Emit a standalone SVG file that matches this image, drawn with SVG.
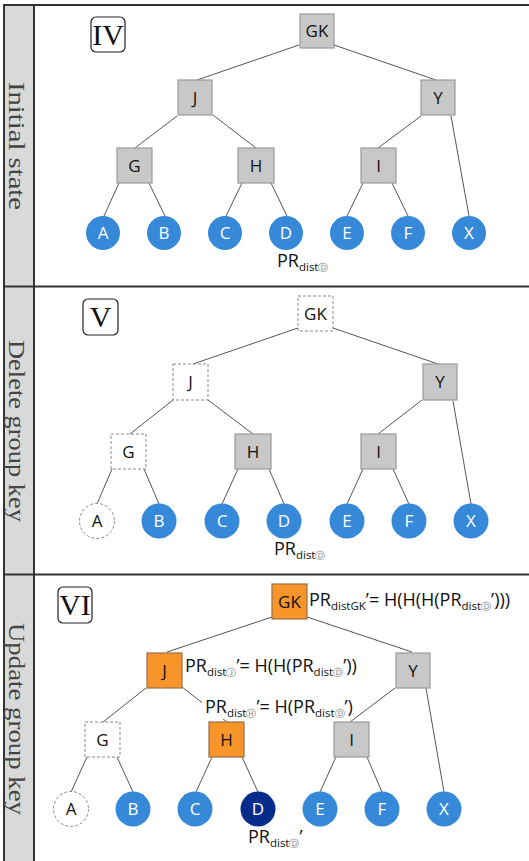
<svg xmlns="http://www.w3.org/2000/svg" width="529" height="861" viewBox="0 0 529 861">
<style>
.conn line{stroke:#555;stroke-width:1}
.box{fill:#c8c8c8;stroke:#9a9a9a;stroke-width:1.2}
.dash{fill:#fff;stroke:#888;stroke-width:1;stroke-dasharray:3 2}
.org{fill:#f7952a;stroke:#9a7048;stroke-width:1.2}
.leaf{fill:#3689d8}
.navy{fill:#062c8c}
.lbl{font-family:"Open Sans","Noto Sans",sans-serif;font-size:17px;text-anchor:middle;fill:#111}
.wl{fill:#fff}
.f{font-family:"Open Sans","Noto Sans",sans-serif;font-size:18px;fill:#111}
.sub{font-size:11.5px}
.circ{font-family:"DejaVu Sans",sans-serif;font-size:9.5px;fill:#777}
.lane{font-family:"Liberation Serif",serif;font-size:24px;fill:#444;text-anchor:middle}
.rom{font-family:"Liberation Serif",serif;font-size:30px;text-anchor:middle;fill:#111}
.rbox{fill:#fff;stroke:#222;stroke-width:1.2}
.frame{fill:none;stroke:#333;stroke-width:2}
</style>
<rect width="529" height="861" fill="#fff"/>
<g id="frame">
<rect x="4" y="5" width="30" height="860" fill="#d9d9d9"/>
<rect class="frame" x="4" y="5" width="530" height="860"/>
<line class="frame" x1="34" y1="5" x2="34" y2="861"/>
<line class="frame" x1="4" y1="286.5" x2="529" y2="286.5"/>
<line class="frame" x1="4" y1="574.5" x2="529" y2="574.5"/>
<text class="lane" transform="translate(8.5,146) rotate(90)" textLength="128" lengthAdjust="spacingAndGlyphs">Initial state</text>
<text class="lane" transform="translate(8.5,431) rotate(90)" textLength="182" lengthAdjust="spacingAndGlyphs">Delete group key</text>
<text class="lane" transform="translate(8.5,719) rotate(90)" textLength="192" lengthAdjust="spacingAndGlyphs">Update group key</text>
</g>
<g class="conn" id="connectors">
<line x1="299" y1="45" x2="197" y2="80"/>
<line x1="334" y1="45" x2="436" y2="80"/>
<line x1="177" y1="116" x2="135" y2="148"/>
<line x1="213" y1="115" x2="256" y2="148"/>
<line x1="421" y1="116" x2="378" y2="148"/>
<line x1="451" y1="116" x2="469" y2="216"/>
<line x1="119" y1="183" x2="104" y2="216"/>
<line x1="149" y1="183" x2="165" y2="216"/>
<line x1="242" y1="183" x2="226" y2="216"/>
<line x1="271" y1="183" x2="287" y2="216"/>
<line x1="363" y1="183" x2="347" y2="216"/>
<line x1="392" y1="183" x2="408" y2="216"/>

<line x1="298" y1="328" x2="193" y2="364"/>
<line x1="333" y1="328" x2="438" y2="364"/>
<line x1="173" y1="400" x2="130" y2="434"/>
<line x1="208" y1="400" x2="253" y2="434"/>
<line x1="422" y1="400" x2="378" y2="434"/>
<line x1="453" y1="401" x2="471" y2="504"/>
<line x1="112" y1="469" x2="97" y2="504"/>
<line x1="144" y1="469" x2="159" y2="504"/>
<line x1="238" y1="469" x2="222" y2="504"/>
<line x1="269" y1="469" x2="284" y2="504"/>
<line x1="363" y1="469" x2="347" y2="504"/>
<line x1="393" y1="469" x2="409" y2="504"/>

<line x1="272" y1="617" x2="167" y2="652"/>
<line x1="307" y1="617" x2="412" y2="652"/>
<line x1="146" y1="688" x2="103" y2="722"/>
<line x1="182" y1="687" x2="227" y2="722"/>
<line x1="395" y1="688" x2="350" y2="722"/>
<line x1="426" y1="688" x2="444" y2="792"/>
<line x1="87" y1="757" x2="71" y2="792"/>
<line x1="117" y1="757" x2="133" y2="792"/>
<line x1="212" y1="757" x2="196" y2="792"/>
<line x1="242" y1="757" x2="258" y2="792"/>
<line x1="336" y1="757" x2="320" y2="792"/>
<line x1="367" y1="757" x2="382" y2="792"/>
</g>

<!-- Panel IV -->
<g id="p1-tag"><rect class="rbox" x="91" y="17" width="34" height="35" rx="5"/><text class="rom" x="108" y="45">IV</text></g>
<g id="p1-GK"><rect class="box" x="300" y="14" width="34" height="34"/><text class="lbl" x="317" y="37">GK</text></g>
<g id="p1-J"><rect class="box" x="178" y="80" width="34" height="35"/><text class="lbl" x="195" y="103.5">J</text></g>
<g id="p1-Y"><rect class="box" x="421" y="80" width="34" height="35"/><text class="lbl" x="438" y="103.5">Y</text></g>
<g id="p1-G"><rect class="box" x="117" y="148" width="35" height="35"/><text class="lbl" x="134.5" y="171.5">G</text></g>
<g id="p1-H"><rect class="box" x="238" y="148" width="36" height="35"/><text class="lbl" x="256" y="171.5">H</text></g>
<g id="p1-I"><rect class="box" x="361" y="148" width="35" height="35"/><text class="lbl" x="378.5" y="171.5">I</text></g>
<g id="p1-A"><circle class="leaf" cx="103" cy="233" r="17"/><text class="lbl wl" x="103" y="239">A</text></g>
<g id="p1-B"><circle class="leaf" cx="164" cy="233" r="17"/><text class="lbl wl" x="164" y="239">B</text></g>
<g id="p1-C"><circle class="leaf" cx="225" cy="233" r="17"/><text class="lbl wl" x="225" y="239">C</text></g>
<g id="p1-D"><circle class="leaf" cx="286" cy="233" r="17"/><text class="lbl wl" x="286" y="239">D</text></g>
<g id="p1-E"><circle class="leaf" cx="347" cy="233" r="17"/><text class="lbl wl" x="347" y="239">E</text></g>
<g id="p1-F"><circle class="leaf" cx="408" cy="233" r="17"/><text class="lbl wl" x="408" y="239">F</text></g>
<g id="p1-X"><circle class="leaf" cx="469" cy="233" r="17"/><text class="lbl wl" x="469" y="239">X</text></g>
<text class="f" x="277" y="267">PR<tspan class="sub" dy="4">dist</tspan><tspan class="circ">Ⓓ</tspan></text>

<!-- Panel V -->
<g id="p2-tag"><rect class="rbox" x="83" y="299" width="35" height="36" rx="5"/><text class="rom" x="100.5" y="327">V</text></g>
<g id="p2-GK"><rect class="dash" x="298" y="296" width="35" height="35"/><text class="lbl" x="315.5" y="319.5">GK</text></g>
<g id="p2-J"><rect class="dash" x="173" y="364" width="35" height="36"/><text class="lbl" x="190.5" y="388">J</text></g>
<g id="p2-Y"><rect class="box" x="423" y="364" width="34" height="36"/><text class="lbl" x="440" y="388">Y</text></g>
<g id="p2-G"><rect class="dash" x="111" y="434" width="35" height="35"/><text class="lbl" x="128.5" y="457.5">G</text></g>
<g id="p2-H"><rect class="box" x="235" y="434" width="36" height="35"/><text class="lbl" x="253" y="457.5">H</text></g>
<g id="p2-I"><rect class="box" x="361" y="434" width="35" height="35"/><text class="lbl" x="378.5" y="457.5">I</text></g>
<g id="p2-A"><circle class="dash" cx="97" cy="521" r="17.5"/><text class="lbl" x="97" y="527">A</text></g>
<g id="p2-B"><circle class="leaf" cx="159" cy="521" r="17.5"/><text class="lbl wl" x="159" y="527">B</text></g>
<g id="p2-C"><circle class="leaf" cx="222" cy="521" r="17.5"/><text class="lbl wl" x="222" y="527">C</text></g>
<g id="p2-D"><circle class="leaf" cx="284" cy="521" r="17.5"/><text class="lbl wl" x="284" y="527">D</text></g>
<g id="p2-E"><circle class="leaf" cx="347" cy="521" r="17.5"/><text class="lbl wl" x="347" y="527">E</text></g>
<g id="p2-F"><circle class="leaf" cx="409" cy="521" r="17.5"/><text class="lbl wl" x="409" y="527">F</text></g>
<g id="p2-X"><circle class="leaf" cx="471" cy="521" r="17.5"/><text class="lbl wl" x="471" y="527">X</text></g>
<text class="f" x="274" y="555">PR<tspan class="sub" dy="4">dist</tspan><tspan class="circ">Ⓓ</tspan></text>

<!-- Panel VI -->
<g id="p3-tag"><rect class="rbox" x="58" y="587" width="34" height="36" rx="5"/><text class="rom" x="75" y="615">VI</text></g>
<g id="p3-GK"><rect class="org" x="272" y="584" width="35" height="35"/><text class="lbl" x="289.5" y="607.5">GK</text></g>
<g id="p3-J"><rect class="org" x="147" y="653" width="35" height="35"/><text class="lbl" x="164.5" y="676.5">J</text></g>
<g id="p3-Y"><rect class="box" x="396" y="653" width="34" height="35"/><text class="lbl" x="413" y="676.5">Y</text></g>
<g id="p3-G"><rect class="dash" x="85" y="722" width="35" height="35"/><text class="lbl" x="102.5" y="745.5">G</text></g>
<g id="p3-H"><rect class="org" x="209" y="722" width="35" height="35"/><text class="lbl" x="226.5" y="745.5">H</text></g>
<g id="p3-I"><rect class="box" x="334" y="722" width="35" height="35"/><text class="lbl" x="351.5" y="745.5">I</text></g>
<g id="p3-A"><circle class="dash" cx="71" cy="809" r="17.5"/><text class="lbl" x="71" y="815">A</text></g>
<g id="p3-B"><circle class="leaf" cx="133" cy="809" r="17.5"/><text class="lbl wl" x="133" y="815">B</text></g>
<g id="p3-C"><circle class="leaf" cx="195" cy="809" r="17.5"/><text class="lbl wl" x="195" y="815">C</text></g>
<g id="p3-D"><circle class="navy" cx="258" cy="809" r="17.5"/><text class="lbl wl" x="258" y="815">D</text></g>
<g id="p3-E"><circle class="leaf" cx="320" cy="809" r="17.5"/><text class="lbl wl" x="320" y="815">E</text></g>
<g id="p3-F"><circle class="leaf" cx="382" cy="809" r="17.5"/><text class="lbl wl" x="382" y="815">F</text></g>
<g id="p3-X"><circle class="leaf" cx="444" cy="809" r="17.5"/><text class="lbl wl" x="444" y="815">X</text></g>

<g id="formulas">
<text class="f" x="309" y="606">PR<tspan class="sub" dy="4">distGK</tspan><tspan dy="-4">’= H(H(H(PR</tspan><tspan class="sub" dy="4">dist</tspan><tspan class="circ">Ⓓ</tspan><tspan dy="-4">’)))</tspan></text>
<text class="f" x="185" y="672">PR<tspan class="sub" dy="4">dist</tspan><tspan class="circ">Ⓙ</tspan><tspan dy="-4">’= H(H(PR</tspan><tspan class="sub" dy="4">dist</tspan><tspan class="circ">Ⓓ</tspan><tspan dy="-4">’))</tspan></text>
<rect x="202" y="698" width="152" height="21" fill="#fff"/>
<text class="f" x="205" y="713">PR<tspan class="sub" dy="4">dist</tspan><tspan class="circ">Ⓗ</tspan><tspan dy="-4">’= H(PR</tspan><tspan class="sub" dy="4">dist</tspan><tspan class="circ">Ⓓ</tspan><tspan dy="-4">’)</tspan></text>
<text class="f" x="248" y="843">PR<tspan class="sub" dy="4">dist</tspan><tspan class="circ">Ⓓ</tspan><tspan dy="-4">’</tspan></text>
</g>
</svg>
